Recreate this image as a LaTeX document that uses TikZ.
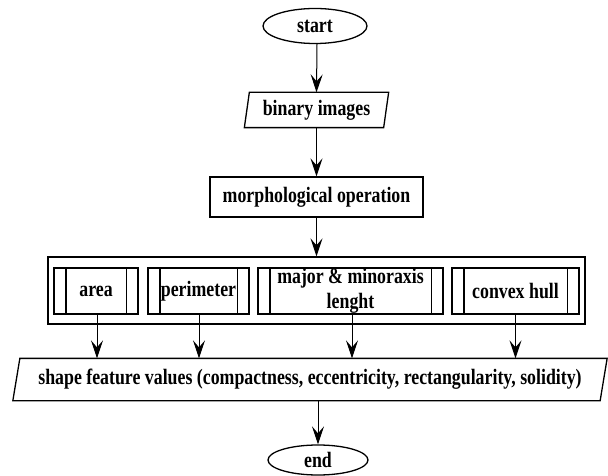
\documentclass[tikz,border=0pt]{standalone}
\usepackage{fontspec}
\setmainfont{Liberation Serif}[FakeStretch=0.81]
\usetikzlibrary{shapes.geometric,arrows.meta}
\tikzset{
  arr/.style={line width=1pt, -{Stealth[length=18pt,width=12pt,inset=7pt]}}
}
\begin{document}
\begin{tikzpicture}[x=1pt,y=-1pt, line width=1.3pt,
  every node/.style={font=\fontsize{22}{25}\selectfont\bfseries, inner sep=0pt, align=center},
  term/.style={draw, ellipse},
  box/.style={draw, rectangle},
  plain/.style={rectangle}]
\useasboundingbox (0,0) rectangle (608,476);
% terminals
\node[term, minimum width=104, minimum height=35] (start) at (315,26) {start};
\node[term, minimum width=100, minimum height=30] (end) at (318,460) {end};
% binary images (parallelogram)
\node[plain, minimum width=138, minimum height=34] (bin) at (316.5,110) {binary images};
\draw ([xshift=2.5pt]bin.north west) -- ([xshift=2.5pt]bin.north east) -- ([xshift=-2.5pt]bin.south east) -- ([xshift=-2.5pt]bin.south west) -- cycle;
% morphological operation
\node[box, minimum width=213, minimum height=40] (morph) at (316.5,197) {morphological operation};
% outer box
\node[box, minimum width=537, minimum height=67] (outer) at (316.5,290.5) {};
% inner process boxes
\node[box, minimum width=84, minimum height=46] (area) at (96,291) {area};
\node[box, minimum width=101, minimum height=46] (peri) at (198.5,291) {perimeter};
\node[box, minimum width=185, minimum height=46] (major) at (350.5,291) {major \& minoraxis\\lenght};
\node[box, minimum width=127, minimum height=46] (convex) at (515.5,291) {convex hull};
\foreach \n in {area,peri,major,convex}{
  \draw ([xshift=12.5pt]\n.north west) -- ([xshift=12.5pt]\n.south west);
  \draw ([xshift=-12.5pt]\n.north east) -- ([xshift=-12.5pt]\n.south east);
}
% shape feature values (parallelogram)
\node[plain, minimum width=586, minimum height=41] (shape) at (310,379.5) {shape feature values (compactness, eccentricity, rectangularity, solidity)};
\draw ([xshift=3.5pt]shape.north west) -- ([xshift=3.5pt]shape.north east) -- ([xshift=-3.5pt]shape.south east) -- ([xshift=-3.5pt]shape.south west) -- cycle;
% connectors
\draw[arr] ([xshift=2pt]start.south) -- (bin.north);
\draw[arr] (bin.south) -- (morph.north);
\draw[arr] (morph.south) -- (outer.north);
\draw[arr] ([xshift=1pt]area.south) -- ([xshift=1pt]area.south |- shape.north);
\draw[arr] ([xshift=0.5pt]peri.south) -- ([xshift=0.5pt]peri.south |- shape.north);
\draw[arr] ([xshift=1.5pt]major.south) -- ([xshift=1.5pt]major.south |- shape.north);
\draw[arr] (convex.south) -- (convex.south |- shape.north);
\draw[arr] (end.north |- shape.south) -- (end.north);
\end{tikzpicture}
\end{document}
